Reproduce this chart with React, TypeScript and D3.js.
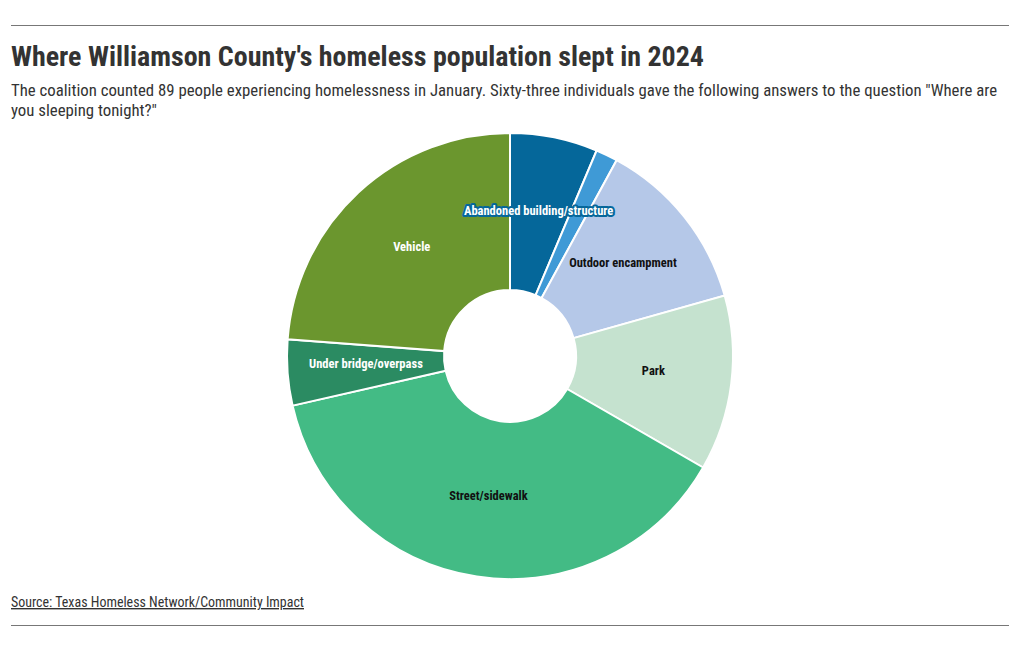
import React from "react";
import * as d3 from "d3";

const categories = [
  "Abandoned building/structure",
  "Other",
  "Outdoor encampment",
  "Park",
  "Street/sidewalk",
  "Under bridge/overpass",
  "Vehicle",
];
const values = [4, 1, 8, 8, 24, 3, 15];
const colors = ["#05679a", "#3f9ad6", "#b5c8e8", "#c5e2cf", "#43bb85", "#2b8b62", "#6b962e"];
const labelColors = ["#ffffff", "#ffffff", "#111111", "#111111", "#111111", "#ffffff", "#ffffff"];
const showLabel = [true, false, true, true, true, true, true];

const W = 1020;
const H = 650;
const CX = 510;
const CY = 356;
const R_OUT = 223;
const R_IN = 66;
const FONT = "'Roboto Condensed', Roboto, sans-serif";
const LABEL_SIZE = 12.5;

export default function App() {
  const data = categories.map((c, i) => ({ name: c, value: values[i], i }));
  const pie = d3.pie<any>().sort(null).value((d) => d.value);
  const arcs = pie(data);
  const arc = d3.arc<any>().innerRadius(R_IN).outerRadius(R_OUT);

  return (
    <svg width={W} height={H} style={{ position: "absolute", left: 0, top: 0, background: "#fff" }}>
      <line x1={11} x2={1009} y1={25.5} y2={25.5} stroke="#777" strokeWidth={1} />
      <text x={11} y={66} fontFamily={FONT} fontWeight={700} fontSize={28} fill="#333"
        textLength={693} lengthAdjust="spacingAndGlyphs">
        Where Williamson County's homeless population slept in 2024
      </text>
      <text x={11} y={96} fontFamily={FONT} fontSize={16} fill="#333" textLength={986} lengthAdjust="spacingAndGlyphs">
        The coalition counted 89 people experiencing homelessness in January. Sixty-three individuals gave the following answers to the question "Where are
      </text>
      <text x={11} y={116} fontFamily={FONT} fontSize={16} fill="#333" textLength={146} lengthAdjust="spacingAndGlyphs">
        you sleeping tonight?"
      </text>
      <g transform={`translate(${CX},${CY})`}>
        {arcs.map((a, i) => (
          <path key={i} d={arc(a) as string} fill={colors[i]} stroke="#fff" strokeWidth={2} />
        ))}
        {arcs.map((a, i) => {
          if (!showLabel[i]) return null;
          const [x, y] = arc.centroid(a);
          const halo = i === 0;
          return (
            <g key={"l" + i} transform={`translate(${x},${y + 1})`}>
              {halo && (
                <text textAnchor="middle" fontFamily={FONT} fontWeight={700} fontSize={LABEL_SIZE}
                  fill={colors[0]} stroke={colors[0]} strokeWidth={4} strokeLinejoin="round" dy="0.33em" y={-4}>
                  {a.data.name}
                </text>
              )}
              <text textAnchor="middle" fontFamily={FONT} fontWeight={700} fontSize={LABEL_SIZE}
                fill={labelColors[i]} dy="0.33em" y={-4}>
                {a.data.name}
              </text>
            </g>
          );
        })}
      </g>
      <text x={11} y={607} fontFamily={FONT} fontSize={14} fill="#333" textDecoration="underline"
        textLength={293} lengthAdjust="spacingAndGlyphs">
        Source: Texas Homeless Network/Community Impact
      </text>
      <line x1={11} x2={1009} y1={625.5} y2={625.5} stroke="#777" strokeWidth={1} />
    </svg>
  );
}
